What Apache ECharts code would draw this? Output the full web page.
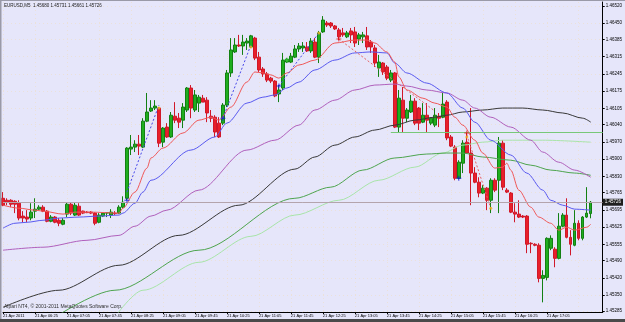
<!DOCTYPE html>
<html><head><meta charset="utf-8">
<script src="https://cdn.jsdelivr.net/npm/echarts@6/dist/echarts.min.js"></script>
<style>html,body{margin:0;padding:0;background:#e6e6fa;}#c{width:625px;height:322px;}</style>
</head><body><div id="c"></div>
<script>
// ---- data ----
const candles = [
[1.45742,1.45714,1.45710,1.45767],[1.45734,1.45726,1.45714,1.45742],[1.45734,1.45718,1.45706,1.45738],[1.45730,1.45718,1.45682,1.45734],
[1.45722,1.45662,1.45653,1.45734],[1.45670,1.45662,1.45645,1.45690],[1.45666,1.45658,1.45645,1.45694],[1.45662,1.45686,1.45653,1.45722],
[1.45690,1.45698,1.45662,1.45742],[1.45698,1.45706,1.45694,1.45714],[1.45706,1.45690,1.45686,1.45714],[1.45690,1.45649,1.45645,1.45694],
[1.45649,1.45666,1.45645,1.45674],[1.45666,1.45645,1.45641,1.45670],[1.45653,1.45641,1.45629,1.45662],[1.45637,1.45653,1.45633,1.45662],
[1.45678,1.45718,1.45666,1.45726],[1.45718,1.45682,1.45674,1.45726],[1.45674,1.45714,1.45670,1.45726],[1.45710,1.45674,1.45670,1.45722],
[1.45690,1.45682,1.45678,1.45692],[1.45686,1.45684,1.45682,1.45690],[1.45686,1.45682,1.45678,1.45690],[1.45682,1.45641,1.45633,1.45686],
[1.45645,1.45674,1.45641,1.45682],[1.45670,1.45682,1.45666,1.45686],[1.45682,1.45684,1.45666,1.45686],[1.45674,1.45686,1.45662,1.45698],
[1.45682,1.45680,1.45674,1.45690],[1.45682,1.45706,1.45678,1.45714],[1.45706,1.45726,1.45702,1.45750],[1.45742,1.45945,1.45734,1.45949],
[1.45941,1.45949,1.45917,1.45998],[1.45949,1.45961,1.45929,1.45977],[1.45961,1.45953,1.45917,1.45998],[1.45949,1.46054,1.45945,1.46066],
[1.46054,1.46091,1.46050,1.46168],[1.46095,1.46107,1.46091,1.46139],[1.46107,1.46115,1.46099,1.46139],[1.46107,1.45965,1.45949,1.46111],
[1.45969,1.46026,1.45949,1.46030],[1.46030,1.45990,1.45986,1.46046],[1.45990,1.46078,1.45986,1.46091],[1.46074,1.46058,1.46046,1.46131],
[1.46066,1.46050,1.46026,1.46087],[1.46058,1.46111,1.46026,1.46127],[1.46099,1.46188,1.46091,1.46192],[1.46188,1.46107,1.46066,1.46200],
[1.46099,1.46160,1.46091,1.46180],[1.46127,1.46151,1.46091,1.46160],[1.46147,1.46131,1.46131,1.46160],[1.46139,1.46087,1.46050,1.46151],
[1.46074,1.46066,1.46050,1.46099],[1.46070,1.46010,1.45990,1.46078],[1.46046,1.45990,1.45986,1.46070],[1.46046,1.46119,1.46038,1.46127],
[1.46119,1.46249,1.46111,1.46261],[1.46249,1.46342,1.46233,1.46390],[1.46334,1.46362,1.46330,1.46390],[1.46362,1.46358,1.46354,1.46403],
[1.46358,1.46374,1.46322,1.46403],[1.46370,1.46378,1.46342,1.46390],[1.46354,1.46399,1.46350,1.46403],[1.46390,1.46309,1.46301,1.46395],
[1.46313,1.46261,1.46253,1.46334],[1.46265,1.46245,1.46233,1.46273],[1.46245,1.46220,1.46212,1.46253],[1.46228,1.46216,1.46208,1.46233],
[1.46216,1.46156,1.46151,1.46220],[1.46164,1.46180,1.46131,1.46200],[1.46188,1.46301,1.46180,1.46330],[1.46293,1.46305,1.46289,1.46309],
[1.46293,1.46317,1.46289,1.46330],[1.46313,1.46346,1.46309,1.46362],[1.46346,1.46358,1.46334,1.46370],[1.46350,1.46358,1.46334,1.46374],
[1.46354,1.46338,1.46334,1.46374],[1.46338,1.46378,1.46330,1.46390],[1.46374,1.46313,1.46309,1.46390],[1.46313,1.46411,1.46289,1.46419],
[1.46415,1.46463,1.46411,1.46479],[1.46451,1.46443,1.46435,1.46459],[1.46451,1.46439,1.46431,1.46455],[1.46439,1.46427,1.46423,1.46443],
[1.46423,1.46395,1.46382,1.46431],[1.46411,1.46403,1.46395,1.46431],[1.46395,1.46411,1.46390,1.46419],[1.46419,1.46403,1.46370,1.46431],
[1.46415,1.46370,1.46354,1.46435],[1.46386,1.46403,1.46362,1.46411],[1.46395,1.46403,1.46370,1.46415],[1.46399,1.46354,1.46342,1.46435],
[1.46374,1.46354,1.46330,1.46382],[1.46350,1.46289,1.46273,1.46362],[1.46269,1.46293,1.46233,1.46322],[1.46289,1.46253,1.46241,1.46293],
[1.46273,1.46228,1.46220,1.46281],[1.46220,1.46249,1.46212,1.46261],[1.46249,1.46030,1.46026,1.46253],[1.46030,1.46147,1.46010,1.46180],
[1.46139,1.46066,1.46010,1.46192],[1.46066,1.46099,1.46050,1.46107],[1.46091,1.46135,1.46087,1.46160],[1.46135,1.46046,1.46038,1.46147],
[1.46107,1.46046,1.46018,1.46111],[1.46050,1.46078,1.46046,1.46127],[1.46078,1.46058,1.46010,1.46127],[1.46046,1.46066,1.46038,1.46070],
[1.46038,1.46078,1.46030,1.46107],[1.46074,1.46066,1.46030,1.46087],[1.46070,1.46123,1.46066,1.46168],[1.46131,1.45986,1.45977,1.46139],
[1.45990,1.45953,1.45949,1.45998],[1.45949,1.45823,1.45815,1.45957],[1.45823,1.45888,1.45819,1.45896],[1.45884,1.45965,1.45844,1.45977],
[1.45969,1.45925,1.45921,1.46006],[1.45925,1.45844,1.45714,1.46107],[1.45844,1.45807,1.45803,1.45868],[1.45807,1.45763,1.45746,1.45827],
[1.45763,1.45783,1.45759,1.45795],[1.45783,1.45734,1.45694,1.45787],[1.45734,1.45815,1.45682,1.45823],[1.45815,1.45775,1.45767,1.45823],
[1.45815,1.45965,1.45682,1.45990],[1.45965,1.45787,1.45775,1.45977],[1.45775,1.45767,1.45763,1.45783],[1.45763,1.45686,1.45682,1.45767],
[1.45686,1.45678,1.45645,1.45722],[1.45678,1.45666,1.45662,1.45734],[1.45670,1.45666,1.45662,1.45674],[1.45670,1.45556,1.45520,1.45674],
[1.45560,1.45558,1.45520,1.45564],[1.45556,1.45552,1.45548,1.45560],[1.45552,1.45418,1.45402,1.45560],[1.45418,1.45430,1.45321,1.45451],
[1.45422,1.45580,1.45410,1.45584],[1.45540,1.45580,1.45532,1.45592],[1.45536,1.45499,1.45463,1.45544],[1.45499,1.45629,1.45495,1.45682],
[1.45629,1.45674,1.45625,1.45682],[1.45674,1.45584,1.45580,1.45742],[1.45584,1.45556,1.45511,1.45613],[1.45552,1.45641,1.45548,1.45694],
[1.45641,1.45580,1.45572,1.45653],[1.45580,1.45666,1.45572,1.45670],[1.45666,1.45682,1.45662,1.45787],[1.45680,1.45726,1.45661,1.45731]
];
const maRed = [[0,1.45714],[4,1.45702],[8,1.45694],[10,1.45690],[15,1.45678],[18,1.45686],[22,1.45686],[29,1.45682],[30,1.45702],[33,1.45767],[36,1.45864],[37,1.45905],[40,1.45945],[45,1.46006],[49,1.46058],[52,1.46070],[54,1.46058],[57,1.46111],[61,1.46212],[63,1.46253],[65,1.46249],[67,1.46241],[69,1.46228],[71,1.46249],[74,1.46281],[78,1.46301],[83,1.46370],[88,1.46382],[91,1.46382],[93,1.46370],[96,1.46334],[98,1.46293],[99,1.46233],[101,1.46180],[105,1.46147],[108,1.46127],[111,1.46111],[113,1.46070],[115,1.46038],[118,1.45977],[120,1.45925],[123,1.45864],[125,1.45868],[126,1.45884],[127,1.45856],[129,1.45775],[132,1.45706],[134,1.45666],[137,1.45641],[139,1.45613],[141,1.45625],[143,1.45613],[146,1.45625],[147,1.45637]];
const maBlue = [[0,1.45621],[3,1.45641],[6,1.45645],[10,1.45653],[14,1.45662],[19,1.45666],[24,1.45670],[29,1.45674],[30,1.45682],[33,1.45722],[35,1.45767],[37,1.45815],[47,1.45937],[53,1.45990],[56,1.46046],[61,1.46127],[65,1.46151],[68,1.46160],[71,1.46188],[74,1.46212],[78,1.46261],[83,1.46301],[88,1.46330],[92,1.46334],[96,1.46330],[98,1.46289],[101,1.46249],[106,1.46208],[111,1.46168],[115,1.46107],[118,1.46050],[122,1.45977],[127,1.45917],[131,1.45844],[135,1.45775],[137,1.45734],[140,1.45714],[143,1.45698],[147,1.45694]];
const maPurple = [[0,1.45532],[10,1.45544],[21,1.45572],[29,1.45592],[33,1.45629],[37,1.45670],[41,1.45694],[49,1.45775],[61,1.45937],[68,1.45977],[74,1.46038],[78,1.46099],[83,1.46139],[88,1.46180],[93,1.46200],[98,1.46204],[101,1.46196],[106,1.46180],[111,1.46168],[115,1.46139],[118,1.46107],[122,1.46070],[127,1.46030],[132,1.45977],[135,1.45929],[139,1.45888],[143,1.45856],[147,1.45827]];
const maBlack = [[0,1.45301],[14,1.45370],[29,1.45471],[44,1.45592],[59,1.45714],[73,1.45860],[78,1.45909],[83,1.45957],[88,1.45990],[93,1.46018],[98,1.46038],[103,1.46058],[108,1.46070],[111,1.46078],[115,1.46091],[120,1.46099],[125,1.46107],[130,1.46107],[135,1.46099],[140,1.46087],[145,1.46066],[147,1.46050]];
const maDarkGreen = [[11,1.45240],[28,1.45370],[49,1.45532],[73,1.45742],[82,1.45787],[90,1.45856],[98,1.45905],[106,1.45921],[111,1.45925],[115,1.45925],[120,1.45909],[127,1.45896],[132,1.45876],[137,1.45856],[143,1.45844],[147,1.45835]];
const maLightGreen = [[27,1.45240],[35,1.45370],[49,1.45483],[62,1.45588],[73,1.45674],[84,1.45734],[94,1.45815],[103,1.45868],[110,1.45925],[115,1.45957],[120,1.45969],[125,1.45977],[135,1.45977],[147,1.45969]];
const dotBlue = [[[31,1.45767],[39,1.46119]],[[55,1.46066],[62,1.46362]],[[69,1.46196],[79,1.46411]]];
const dotRed = [[[84,1.46386],[108,1.46095]],[[116,1.45998],[122,1.45702]]];
const blueMarks = [[31,1.45734],[55,1.46066],[69,1.46196],[114,1.45823]];
const yellowMarks = [[39,1.46107],[62,1.46354],[79,1.46411],[116,1.45990],[122,1.45702]];
const redMarks = [[84,1.46386],[116,1.46006]];
const greenMarks = [[71,1.46301]];
const yTickValues = [1.46520,1.46450,1.46385,1.46315,1.46245,1.46175,1.46105,1.46040,1.45970,1.45900,1.45830,1.45765,1.45695,1.45625,1.45555,1.45490,1.45420,1.45350,1.45285];
const bidPrice = 1.45726;
const levelPrice = 1.46010;
const levelStart = 97;
const titleText = 'EURUSD,M5  1.45680 1.45731 1.45661 1.45726';
const copyText = 'Alpari NT4, \u00a9 2001-2011 MetaQuotes Software Corp.';
const startMinutes = 5*60+45, stepMinutes = 5, totalSlots = 151;
const categories = [];
for (let i=0;i<totalSlots;i++){const t=startMinutes+i*stepMinutes;categories.push(String(Math.floor(t/60)).padStart(2,'0')+':'+String(t%60).padStart(2,'0'));}

const FONT = 'Liberation Sans';
const gridLine = {show:true, lineStyle:{color:'#efdcc0', type:[1,3], width:1, opacity:0.55}};
function lineSeries(data,color,extra){return Object.assign({type:'line',data:data,showSymbol:false,symbol:'none',smooth:0.3,smoothMonotone:'x',lineStyle:{color:color,width:1},z:4,silent:true,animation:false},extra||{});}
const series = [
 {type:'candlestick', data:candles, barWidth:3, z:3, animation:false,
  itemStyle:{color:'#1fae1f',color0:'#e8202a',borderColor:'#138013',borderColor0:'#d0182a',borderWidth:1},
  markLine:{symbol:['none','none'],silent:true,animation:false,precision:5,data:[
    {yAxis:bidPrice,lineStyle:{color:'#b4a4ac',type:'solid',width:1},label:{show:true,position:'end',formatter:bidPrice.toFixed(5),color:'#fff',backgroundColor:'#1e1e1e',fontSize:4.5,fontFamily:FONT,padding:[1,2,1,2],distance:0}},
    [{coord:[categories[levelStart],levelPrice],lineStyle:{color:'#78c878',type:'solid',width:1},label:{show:false}},{coord:[categories[totalSlots-1],levelPrice]}]
  ]}},
 lineSeries(maLightGreen,'#a8e4a8'),
 lineSeries(maDarkGreen,'#4ea44e'),
 lineSeries(maBlack,'#383838'),
 lineSeries(maPurple,'#b060bc'),
 lineSeries(maBlue,'#5a5af0'),
 lineSeries(maRed,'#f05858'),
];
dotBlue.forEach(d=>series.push(lineSeries(d,'#4848e8',{smooth:false,lineStyle:{color:'#4848e8',width:1,type:[2,2]}})));
dotRed.forEach(d=>series.push(lineSeries(d,'#e86060',{smooth:false,lineStyle:{color:'#e86060',width:1,type:[2,2]}})));
const plus='path://M2,0H3V2H5V3H3V5H2V3H0V2H2Z';
series.push({type:'scatter',data:blueMarks,symbol:plus,symbolSize:5,itemStyle:{color:'#1010e0'},z:5,silent:true,animation:false});
series.push({type:'scatter',data:yellowMarks,symbol:'circle',symbolSize:3,itemStyle:{color:'#f0b020'},z:5,silent:true,animation:false});
series.push({type:'scatter',data:redMarks,symbol:plus,symbolSize:5,itemStyle:{color:'#e01010'},z:5,silent:true,animation:false});
series.push({type:'scatter',data:greenMarks,symbol:plus,symbolSize:5,itemStyle:{color:'#40d040'},z:5,silent:true,animation:false});

const chart = echarts.init(document.getElementById('c'),null,{renderer:'canvas',width:625,height:322});
chart.setOption({
 backgroundColor:'#e6e6fa', animation:false,
 grid:{left:2,top:2,right:22,bottom:10,containLabel:false},
 xAxis:{type:'category',data:categories,boundaryGap:false,
   axisLine:{show:true,onZero:false,lineStyle:{color:'#000',width:1}},
   axisTick:{show:true,interval:7,length:2,lineStyle:{color:'#000'}},
   axisLabel:{show:true,interval:7,align:'left',fontSize:4,fontFamily:FONT,color:'#000',margin:2,showMaxLabel:false,
     formatter:(v,i)=> i===0 ? '21 Apr 2011' : '21 Apr '+v},
   splitLine:Object.assign({interval:7},gridLine)},
 yAxis:{type:'value',position:'right',min:1.45282,max:1.46536,scale:true,
   axisLine:{show:true,lineStyle:{color:'#000',width:1}},
   axisTick:{show:true,customValues:yTickValues,length:2,lineStyle:{color:'#000'}},
   axisLabel:{show:true,customValues:yTickValues,formatter:v=>v.toFixed(5),fontSize:4.5,fontFamily:FONT,color:'#000',margin:3},
   splitLine:gridLine},
 series:series,
 graphic:[
  {type:'rect',left:0,top:0,shape:{width:625,height:1},style:{fill:'#9a9aa8'},z:10},
  {type:'rect',left:0,top:0,shape:{width:1.5,height:322},style:{fill:'#9a9aa8'},z:10},
  {type:'rect',left:0,top:319,shape:{width:625,height:3},style:{fill:'#4a4a4a'},z:10},
  {type:'text',left:4,top:3,style:{text:titleText,fontSize:4.5,fontFamily:FONT,fill:'#1a1a1a'},z:10},
  {type:'text',left:4,top:304,style:{text:copyText,fontSize:5,fontFamily:FONT,fill:'#303030'},z:10}
 ]
});
</script></body></html>
